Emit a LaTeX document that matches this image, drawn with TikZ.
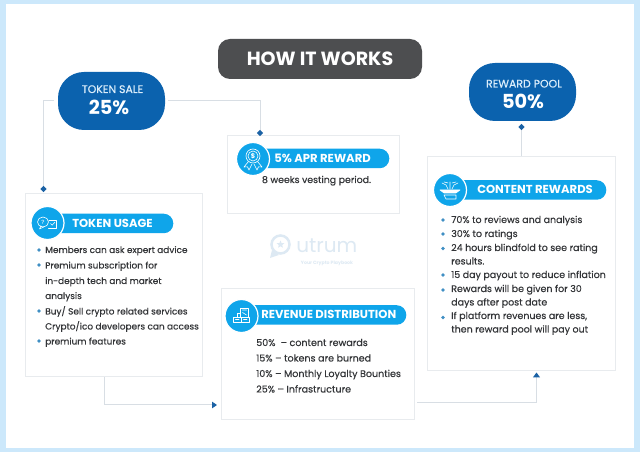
\documentclass[tikz,border=0pt]{standalone}
\usepackage{fontspec}
\setmainfont{Poppins}
\newfontfamily\bodyface[FakeBold=0.3]{Poppins}
\usetikzlibrary{arrows.meta,shapes.geometric}
\definecolor{pagebg}{HTML}{CCE8FB}
\definecolor{slate}{HTML}{4D4E50}
\definecolor{deepblue}{HTML}{0B62AE}
\definecolor{skyblue}{HTML}{0FA5EA}
\definecolor{hairline}{HTML}{E8EBEE}
\definecolor{wire}{HTML}{D8DEE4}
\definecolor{tipblue}{HTML}{1B62A5}
\definecolor{ink}{HTML}{333538}
\definecolor{dotblue}{HTML}{3F8FC4}
\definecolor{paleblue}{HTML}{DDE9F3}
\definecolor{pilltext}{HTML}{DCEEFB}
\def\u{0.75pt}
\tikzset{
  x=0.75pt,y=-0.75pt,
  card/.style={draw=hairline,line width=0.75pt,fill=white,inner sep=0pt,minimum width=#1},
  pill/.style={fill=deepblue,rounded corners=26*\u,minimum width=107*\u,minimum height=58*\u,inner sep=0pt},
  pillname/.style={text=pilltext,anchor=base,inner sep=0pt,font=\bodyface\fontsize{8.2pt}{9pt}\selectfont},
  pillshare/.style={text=white,anchor=base,inner sep=0pt,font=\bfseries\fontsize{14.5pt}{16pt}\selectfont},
  bar/.style={fill=skyblue,rounded corners=9.5*\u,minimum height=19.5*\u,inner sep=0pt,anchor=west},
  disc/.style={circle,fill=skyblue,draw=white,line width=0.9pt,minimum size=33*\u,inner sep=0pt},
  barlabel/.style={text=white,font=\bfseries\fontsize{8.7pt}{10pt}\selectfont,anchor=base west,inner sep=0pt},
  line/.style={text=ink,font=\bodyface\fontsize{#1}{8pt}\selectfont,anchor=base west,inner sep=0pt},
  bull/.style={diamond,fill=dotblue,minimum size=3.8*\u,inner sep=0pt},
  pin/.style={diamond,fill=tipblue,minimum size=6.5*\u,inner sep=0pt},
  conn/.style={draw=wire,line width=0.75pt},
  glyph/.style={draw=white,line width=0.45pt,line join=round,line cap=round},
}
\begin{document}
\begin{tikzpicture}
\useasboundingbox (0,0) rectangle (640,452);
\fill[pagebg] (0,0) rectangle (640,452);
\fill[white] (6,4) rectangle (634,448);

% Title
\node[fill=slate,text=white,rounded corners=12*\u,minimum width=204*\u,minimum height=40*\u,inner sep=0pt,
      font=\bfseries\fontsize{14.3pt}{16pt}\selectfont] (title) at (320,59) {HOW IT WORKS};

% Percentage pills
\node[pill] (sale) at (111.5,101) {};
\node[pillname] (salename) at (112.5,93) {TOKEN SALE};
\node[pillshare] (saleshare) at (109,114.5) {25\%};
\node[pill] (pool) at (522.5,92) {};
\node[pillname] (poolname) at (524,87.5) {REWARD POOL};
\node[pillshare] (poolshare) at (523,108.5) {50\%};

% Cards
\node[card=177*\u,minimum height=183*\u] (usage) at (113.5,285.5) {};
\node[card=172*\u,minimum height=78*\u] (apr) at (313,175) {};
\node[card=193*\u,minimum height=131*\u] (rev) at (317.5,354.5) {};
\node[card=188*\u,minimum height=214*\u] (content) at (521,264) {};

% Logo watermark
\node[circle,draw=paleblue,line width=1.9pt,minimum size=18*\u,inner sep=0pt] (logoring) at (280.5,244.5) {};
\node[star,star points=5,star point ratio=2.2,fill=paleblue,minimum size=8*\u,inner sep=0pt] (logostar) at (280.5,244.5) {};
\fill[paleblue] (272,250) -- (270,258) -- (279,255) -- cycle;
\node[text=paleblue,anchor=base west,inner sep=0pt,font=\fontsize{15pt}{17pt}\selectfont] (logoword) at (296,253) {utrum};
\node[text=paleblue,anchor=base,inner sep=0pt,font=\bfseries\fontsize{3.5pt}{4pt}\selectfont] (logotag) at (327,265) {Your Crypto Playbook};

% Connector ends
\coordinate (usageDrop) at (43.5,189);
\coordinate (aprDrop) at (260,133);
\coordinate (poolDrop) at (521.5,127);
\coordinate (usageElbow) at (104,405);
\coordinate (revEntry) at (217,405);
\coordinate (contentEntry) at (536.5,372.5);
\coordinate (revExit) at (417,403);

\draw[conn,shorten <=4*\u] (sale.west) -| (usageDrop);
\draw[conn,shorten <=3*\u] (sale.east) -| (aprDrop);
\draw[conn] (content.north -| poolDrop) -- (poolDrop);
\node[pin] (pinusage) at (usageDrop) {};
\node[pin] (pinapr) at (aprDrop) {};
\node[pin] (pinpool) at (poolDrop) {};
\draw[conn,-{Triangle[length=5*\u,width=6.5*\u,color=tipblue]}] (usage.south -| usageElbow) |- (revEntry);
\draw[conn,-{Triangle[length=5*\u,width=7*\u,color=tipblue]}] (revExit) -| (contentEntry);

% Headings
\node[bar,minimum width=125*\u] (usagebar) at (48,223.5) {};
\node[disc] (usagedisc) at (47.5,223) {};
\node[barlabel] (usagehead) at (72,227.5) {TOKEN USAGE};
\node[bar,minimum width=136*\u] (aprbar) at (253,158.5) {};
\node[disc] (aprdisc) at (253,159) {};
\node[barlabel] (aprhead) at (274,162.5) {5\% APR REWARD};
\node[bar,minimum width=165*\u] (revbar) at (241,315) {};
\node[disc] (revdisc) at (241.5,316) {};
\node[barlabel] (revhead) at (261,319) {REVENUE DISTRIBUTION};
\node[bar,minimum width=156*\u] (contentbar) at (450,190) {};
\node[disc] (contentdisc) at (450,190) {};
\node[barlabel] (contenthead) at (477,194) {CONTENT REWARDS};

% Token usage icon: two speech bubbles
\begin{scope}[shift={(47.5,223)}]
  \draw[glyph] (-4.5,-1) ellipse (5.5 and 5);
  \draw[glyph] (-6.5,2.8) -- (-8,6) -- (-3.5,3.8);
  \node[text=white,inner sep=0pt,font=\fontsize{4.5pt}{5pt}\selectfont] (usageq) at (-4.5,-1) {?};
  \draw[glyph] (1.5,-3) -- (9,-3) -- (9,5) -- (1,5);
  \draw[glyph] (3,0.5) -- (4.7,2.2) -- (7.5,-1);
\end{scope}

% APR icon: rosette
\begin{scope}[shift={(253,159)}]
  \draw[glyph] (0,-3) circle (7);
  \draw[glyph] (0,-3) circle (5);
  \node[text=white,inner sep=0pt,font=\bfseries\fontsize{5pt}{5pt}\selectfont] (aprcoin) at (0,-3) {\$};
  \draw[glyph] (-4.5,2.5) -- (-9,8) -- (-5.5,7.8) -- (-4,11) -- (-1,5);
  \draw[glyph] (4.5,2.5) -- (9,8) -- (5.5,7.8) -- (4,11) -- (1,5);
\end{scope}

% Revenue icon: stacked bills
\begin{scope}[shift={(241.5,316)}]
  \draw[glyph] (-8,1) rectangle (-0.5,6);
  \draw[glyph] (0,1) rectangle (7.5,6);
  \draw[glyph] (-1,-8) rectangle (7,1);
  \draw[glyph] (-4,-3) rectangle (-1,1);
  \draw[glyph] (1,-6) -- (5,-6) (1,-3.5) -- (5,-1);
  \draw[glyph] (-6,3.5) -- (-2.5,3.5) (2,3.5) -- (5.5,3.5);
\end{scope}

% Content rewards icon: sprouts over an open hand
\begin{scope}[shift={(450,190)}]
  \draw[glyph] (-8,-7) -- (-4,-5) -- (-2,-1) (0,-8) -- (0,-1) (8,-7) -- (4,-5) -- (2,-1);
  \draw[glyph] (-6,-8) -- (-2,-7) (6,-8) -- (2,-7);
  \draw[glyph,fill=white] (-10,0) -- (10,0) -- (6,3) -- (-6,3) -- cycle;
  \draw[glyph] (-6,5) -- (6,5) -- (6,9) -- (-4,9) -- cycle;
\end{scope}

% Token usage list
\node[line=6.7pt] (u1) at (45,253) {Members can ask expert advice};
\node[line=6.7pt] (u2) at (45,268.5) {Premium subscription for};
\node[line=6.7pt] (u3) at (45,284) {in-depth tech and market};
\node[line=6.7pt] (u4) at (45,299) {analysis};
\node[line=6.7pt] (u5) at (45,314.5) {Buy/ Sell crypto related services};
\node[line=6.7pt] (u6) at (45,329.5) {Crypto/ico developers can access};
\node[line=6.7pt] (u7) at (45,344.5) {premium features};
\node[bull] (ub1) at (39,250) {};
\node[bull] (ub2) at (39,265) {};
\node[bull] (ub3) at (39,311) {};
\node[bull] (ub4) at (39,341) {};

% APR note
\node[line=7.05pt,anchor=base] (a1) at (316.5,183) {8 weeks vesting period.};

% Revenue split
\node[line=7.15pt] (r1) at (256,346) {50\%\ \ – content rewards};
\node[line=7.15pt] (r2) at (256,361.5) {15\% – tokens are burned};
\node[line=7.15pt] (r3) at (256,377) {10\% – Monthly Loyalty Bounties};
\node[line=7.15pt] (r4) at (256,392.5) {25\% – Infrastructure};

% Content rewards list
\node[line=7.1pt] (c1) at (451,223) {70\% to reviews and analysis};
\node[line=7.1pt] (c2) at (451,237) {30\% to ratings};
\node[line=7.1pt] (c3) at (451,251) {24 hours blindfold to see rating};
\node[line=7.1pt] (c4) at (451,264.5) {results.};
\node[line=7.1pt] (c5) at (451,278) {15 day payout to reduce inflation};
\node[line=7.1pt] (c6) at (451,292) {Rewards will be given for 30};
\node[line=7.1pt] (c7) at (451,305.5) {days after post date};
\node[line=7.1pt] (c8) at (451,319) {If platform revenues are less,};
\node[line=7.1pt] (c9) at (451,332.5) {then reward pool will pay out};
\node[bull] (cb1) at (443,220) {};
\node[bull] (cb2) at (443,234) {};
\node[bull] (cb3) at (443,248.5) {};
\node[bull] (cb4) at (443,275) {};
\node[bull] (cb5) at (443,290) {};
\node[bull] (cb6) at (443,317.5) {};
\end{tikzpicture}
\end{document}
